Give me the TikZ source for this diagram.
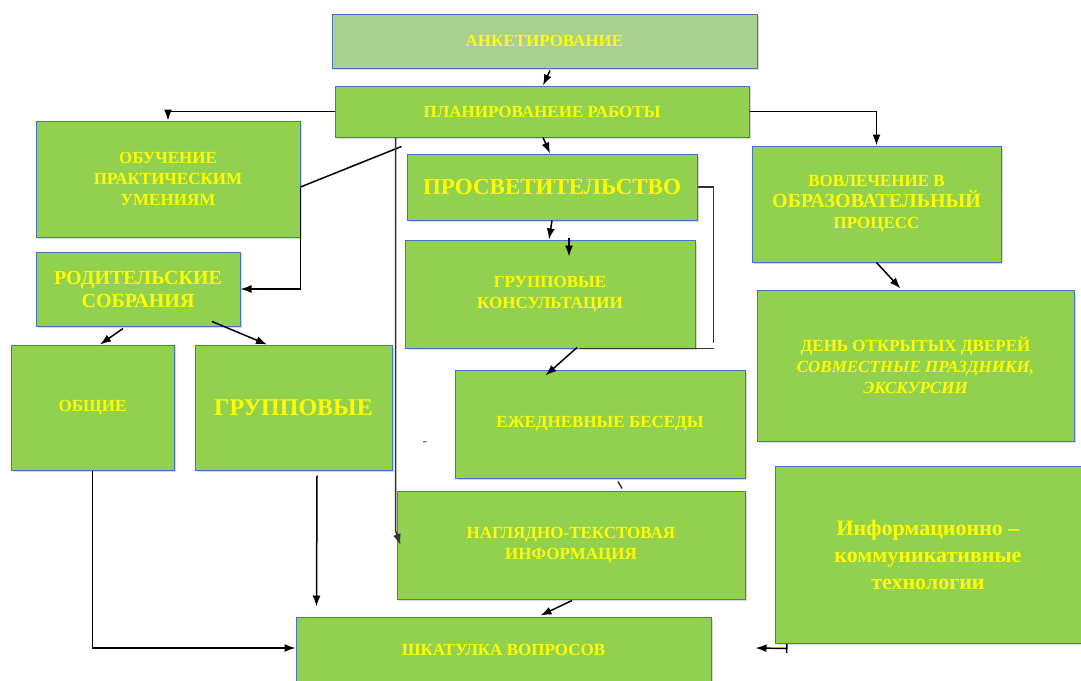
\documentclass[tikz,border=0pt]{standalone}
\usepackage{fontspec}
\setmainfont{Liberation Serif}
\usetikzlibrary{calc, arrows.meta, shadows}

\definecolor{boxgreen}{HTML}{92D050}
\definecolor{topgreen}{HTML}{A9D18E}
\definecolor{boxline}{HTML}{4472C4}
\definecolor{boxtext}{HTML}{FFFF00}

\begin{document}
\begin{tikzpicture}[
    x=1pt, y=-1pt,
    box/.style={draw=boxline, line width=1pt, fill=boxgreen, text=boxtext, align=center, inner sep=2pt,
        font=\bfseries\fontsize{17}{21}\selectfont,
        drop shadow={shadow xshift=1.5pt, shadow yshift=-1.5pt, opacity=0.3}},
    arr/.style={-{Latex[length=11pt, width=8pt]}, line width=1.5pt},
    link/.style={line width=1.5pt, black!80}
]
\useasboundingbox (0,0) rectangle (1081,680);

% Nodes
\node[box, fill=topgreen, minimum width=425pt, minimum height=54pt] (anket) at (544.5,41) {АНКЕТИРОВАНИЕ};
\node[box, minimum width=414pt, minimum height=51pt] (plan) at (542,111.5) {ПЛАНИРОВАНЕИЕ РАБОТЫ};
\node[box, minimum width=264pt, minimum height=116pt] (obuch) at (168,179) {ОБУЧЕНИЕ\\ПРАКТИЧЕСКИМ\\УМЕНИЯМ};
\node[box, minimum width=290pt, minimum height=66pt, font=\bfseries\fontsize{23}{27}\selectfont] (prosv) at (552,187) {ПРОСВЕТИТЕЛЬСТВО};
\node[box, minimum width=249pt, minimum height=116pt] (vovl) at (876.5,204) {ВОВЛЕЧЕНИЕ В\\{\fontsize{20}{22}\selectfont ОБРАЗОВАТЕЛЬНЫЙ}\\ПРОЦЕСС};
\node[box, minimum width=204pt, minimum height=74pt, font=\bfseries\fontsize{20}{23}\selectfont] (roditel) at (138,289) {РОДИТЕЛЬСКИЕ\\СОБРАНИЯ};
\node[box, minimum width=290pt, minimum height=108pt] (grkons) at (550,294) {ГРУППОВЫЕ\\КОНСУЛЬТАЦИИ};
\node[box, minimum width=317pt, minimum height=151pt] (den) at (915.5,365.5) {ДЕНЬ ОТКРЫТЫХ ДВЕРЕЙ\\\itshape СОВМЕСТНЫЕ ПРАЗДНИКИ,\\\itshape ЭКСКУРСИИ};
\node[box, minimum width=163pt, minimum height=125pt] (obsch) at (92.5,407.5) {ОБЩИЕ};
\node[box, minimum width=197pt, minimum height=125pt, font=\bfseries\fontsize{24}{28}\selectfont] (grupp) at (293.5,407.5) {ГРУППОВЫЕ};
\node[box, minimum width=290pt, minimum height=108pt] (ezhed) at (600,424) {ЕЖЕДНЕВНЫЕ БЕСЕДЫ};
\node[box, minimum width=348pt, minimum height=108pt] (nagl) at (571,545) {НАГЛЯДНО-ТЕКСТОВАЯ\\ИНФОРМАЦИЯ};
\node[box, minimum width=306pt, minimum height=177pt, font=\bfseries\fontsize{22}{27}\selectfont] (ikt) at (928,554.5) {Информационно –\\коммуникативные\\технологии};
\node[box, minimum width=415pt, minimum height=66pt] (shkat) at (503.5,650) {ШКАТУЛКА ВОПРОСОВ};
\node[font=\fontsize{14}{14}\selectfont, text=black!70] (tick) at (425,444) {-};

% Arrows
\draw[arr] ($(anket.south)+(5.5,2)$) -- ($(plan.north)+(1,0)$);
\draw[arr] (plan.west) -| (obuch.north);
\draw[arr] (plan.east) -| (vovl.north);
\draw[arr] ($(plan.south)+(1,0)$) -- ($(prosv.north)+(-2,0)$);
\draw[link, black] ($(obuch.east)+(0,8)$) -- ($(plan.south west)+(67,9)$);
\draw[arr] ($(obuch.east)+(0,9)$) |- (roditel.east);
\draw[arr, black!80] ($(plan.south west)+(61,0)$) -- ($(plan.south west)+(61,393)$) -- ($(nagl.west)+(4,0)$);
\draw[arr] ($(roditel.south)+(-15,2)$) -- ($(obsch.north)+(7.5,0)$);
\draw[arr] ($(roditel.south)+(74,-5)$) -- ($(grupp.north)+(-26.5,0)$);
\draw[arr] (prosv.south) -- ($(grkons.north)+(-1,0)$);
\draw[arr] ($(grkons.north)+(19,-2)$) -- ($(grkons.north)+(19,17)$);
\draw[link] (prosv.east) -| ($(grkons.south east)+(18,-6)$);
\draw[link] ($(grkons.south)+(30,0)$) -- ($(grkons.south east)+(18,0)$);
\draw[arr] ($(grkons.south)+(27,-1)$) -- ($(ezhed.north west)+(91,6)$);
\draw[arr] (vovl.south) -- ($(den.north)+(-15,-1)$);
\draw[link] ($(ezhed.south)+(18,3)$) -- ($(nagl.north)+(51,-2)$);
\draw[arr] ($(nagl.south)+(1,1)$) -- ($(shkat.north)+(37,-1)$);
\draw[arr] (obsch.south) |- ($(shkat.west)+(0,-2)$);
\draw[arr] ($(grupp.south)+(23.5,5)$) -- ($(shkat.north west)+(21,-10)$);
\draw[{Bar[width=9pt]}-{Latex[length=11pt, width=8pt]}, line width=1.5pt] ($(ikt.south west)+(13,5)$) -- ($(shkat.east)+(44,-2)$);

\end{tikzpicture}
\end{document}
